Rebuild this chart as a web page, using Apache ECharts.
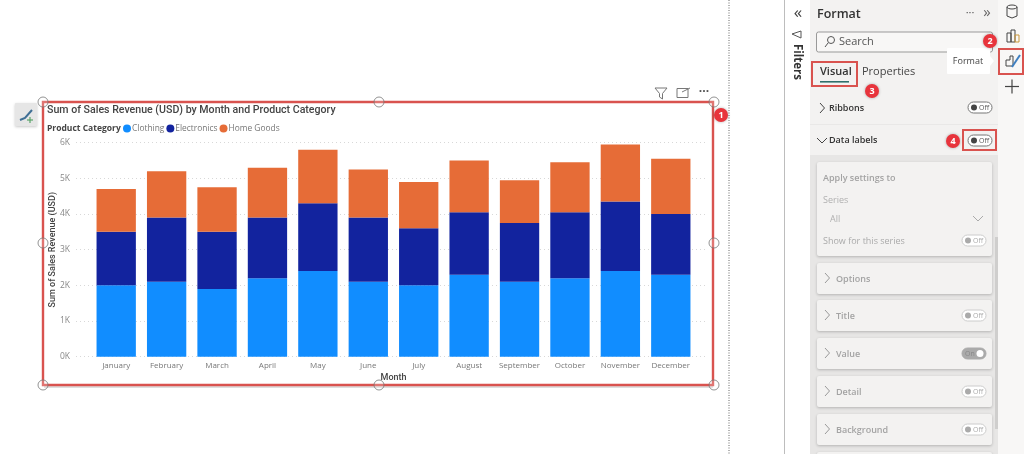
<!DOCTYPE html>
<html><head><meta charset="utf-8">
<style>html,body{margin:0;padding:0;background:#fff}#c{width:1024px;height:454px}</style>
<script src="https://cdn.jsdelivr.net/npm/echarts@6/dist/echarts.min.js"></script>
</head><body><div id="c"></div>
<script>
const months = ['January','February','March','April','May','June','July','August','September','October','November','December'];
const clothing = [2000,2100,1900,2200,2400,2100,2000,2300,2100,2200,2400,2300];
const electronics = [1500,1800,1600,1700,1900,1800,1600,1750,1650,1850,1950,1700];
const homeGoods = [1200,1300,1250,1400,1500,1350,1300,1450,1200,1400,1600,1550];
const chartTitle = 'Sum of Sales Revenue (USD) by Month and Product Category';
const legendTitle = 'Product Category';
const yAxisName = 'Sum of Sales Revenue (USD)';
const xAxisName = 'Month';

const F = '"Open Sans", sans-serif';
const R = 'Roboto, sans-serif';
const g = [];
function rect(x,y,w,h,fill,stroke,lw,r,shadow,z){
  g.push({type:'rect',z:z||1,shape:{x,y,width:w,height:h,r:r||0},silent:true,
    style:{fill:fill||'none',stroke:stroke||'none',lineWidth:lw||1,
      shadowBlur:shadow?3:0,shadowColor:'rgba(0,0,0,0.22)',shadowOffsetY:shadow?1:0}});
}
function text(x,y,t,size,color,weight,align,z,font){
  g.push({type:'text',z:z||5,x,y,silent:true,style:{text:t,fontSize:size,fill:color,
    fontWeight:weight||'normal',fontFamily:font||F,align:align||'left',verticalAlign:'middle'}});
}
function line(pts,color,lw,dash,z){
  g.push({type:'polyline',z:z||5,silent:true,shape:{points:pts},style:{fill:'none',stroke:color,lineWidth:lw||1,lineDash:dash||null}});
}
function circle(x,y,r,fill,stroke,lw,z,shadow){
  g.push({type:'circle',z:z||6,silent:true,shape:{cx:x,cy:y,r},style:{fill:fill||'none',stroke:stroke||'none',lineWidth:lw||1,
    shadowBlur:shadow?3:0,shadowColor:'rgba(0,0,0,0.3)'}});
}
function badge(x,y,n){ circle(x,y,7,'#e8343c',null,1,20,true); text(x,y+0.5,n,9,'#fff','bold','center',21); }
function chev(x,y,c){ line([[x,y-5],[x+4.5,y],[x,y+5]],c||'#666',1); }
function toggle(x,y,on,c,dim){
  rect(x,y,24,11,on?'#aaa':'#fff',c||'#777',1,5.5,false,6);
  if(on){ circle(x+18,y+5.5,3.5,'#fff',null,1,7); text(x+3,y+5.5,'On',7,'#888','normal','left',7); }
  else { circle(x+6,y+5.5,3,dim?'#aaa':'#444',null,1,7); text(x+11,y+5.5,'Off',7,dim?'#aaa':'#555','normal','left',7); }
}

// canvas edge + focus frame
line([[729,0],[729,454]],'#666',1,[1,1.5]);
rect(43,102,670,283,'none','#d9534f',2.4,0,false,8);
line([[44,387],[713,387]],'rgba(0,0,0,0.13)',2,null,3);
[[43,102],[379,102],[714,102],[43,243],[714,243],[43,385],[379,385],[714,385]].forEach(p=>circle(p[0],p[1],5,'rgba(255,255,255,0.2)','#777',0.8,9));
badge(721,115,'1');
// format button
rect(15,103,22,23,'#e6e6e6',null,1,1,true,2);
line([[20,120],[25,118],[32,110]],'#3f6f95',2,null,3);
line([[27,120],[33,120]],'#5aa469',1.2,null,3);
line([[30,117],[30,123]],'#5aa469',1.2,null,3);
// visual header icons
line([[655,88],[667,88],[662.5,93.5],[662.5,99],[659.5,97],[659.5,93.5],[655,88]],'#777',1);
rect(677,88.5,11,9,'none','#777',1);
line([[682,92],[690,88]],'#777',1);
text(704,92,'···',12,'#555','bold','center');

// right panel
rect(784,0,1,454,'#bdbdbd');
rect(785,0,25,454,'#ffffff');
rect(810,0,188,454,'#f3f2f1');
rect(998,0,26,454,'#f8f7f6');
text(798,13,'«',17,'#444','normal','center');
line([[792,34],[801,31],[801,38],[792,34]],'#555',1);
g.push({type:'text',z:5,x:797,y:62,rotation:-Math.PI/2,silent:true,style:{text:'Filters',fontSize:11.5,fontWeight:'bold',fill:'#333',fontFamily:F,align:'center',verticalAlign:'middle'}});
text(817,14,'Format',12.5,'#333','600');
text(970,13,'···',11,'#555','normal','center');
text(987,13,'»',15,'#666','normal','center');
rect(816.5,32,176,20,'#f8f7f6','#999',1,2);
g.push({type:'circle',z:5,silent:true,shape:{cx:831,cy:40,r:3.5},style:{fill:'none',stroke:'#555'}});
line([[828,43],[825,47]],'#555',1);
text(839,42,'Search',11,'#555');
text(820,72,'Visual',11,'#333','600');
text(862,72,'Properties',11,'#444');
rect(820,81,29,1.6,'#2f6f6b');
rect(812,62,45,24,'none','#d9534f',2,0,false,8);
badge(872,91,'3');
chev(820,108,'#444');
text(829,108.5,'Ribbons',9,'#333','600');
toggle(968,102,false);
rect(810,124,188,1,'#e9e8e7');
line([[817,138],[822,143],[827,138]],'#444',1);
text(829,140.5,'Data labels',9,'#333','600');
toggle(968,135,false);
rect(963,130,33,20,'none','#d9534f',2,0,false,8);
badge(953,141,'4');
// disabled section
rect(810,155,188,299,'#e7e6e5');
rect(817,162,175,94,'#f3f2f1',null,1,2,true,2);
text(823,178,'Apply settings to',9,'#a3a3a3','600');
text(823,200,'Series',9,'#b0b0b0');
rect(823.5,210,162,18,'#f3f2f1','#c8c8c8',1);
text(830,219,'All',9,'#b0b0b0');
line([[973,216],[978,221],[983,216]],'#aaa',1);
text(823,241,'Show for this series',9,'#aaa');
toggle(962,235,false,'#ccc',true);
const cards=[['Options',263,null],['Title',300,false],['Value',338,true],['Detail',376,false],['Background',414,false]];
cards.forEach(c=>{
  rect(817,c[1],175,31,'#f3f2f1',null,1,2,true,2);
  chev(825,c[1]+15,'#999');
  text(836,c[1]+16,c[0],9,'#a3a3a3','600');
  if(c[2]!==null) toggle(962,c[1]+10,c[2],c[2]?'#aaa':'#ccc',true);
});
rect(817,452,175,10,'#f3f2f1',null,1,2,true,2);
rect(995,237,3,192,'#cfcecd');
// tooltip + icon strip
rect(947,48,43,26,'#fff',null,1,1,false,9);
g.push({type:'polygon',z:9,silent:true,shape:{points:[[990,56],[994,61],[990,66]]},style:{fill:'#fff'}});
text(968,61,'Format',9,'#444','normal','center',10);
badge(990,41,'2');
rect(999,49,24,25,'none','#d9534f',2,0,false,8);
g.push({type:'ellipse',z:5,silent:true,shape:{cx:1012,cy:7,rx:5,ry:2},style:{fill:'none',stroke:'#444'}});
line([[1007,7],[1007,16],[1012,18],[1017,16],[1017,7]],'#444',1);
rect(1007,33,4,9,'none','#444'); rect(1011,30,4,12,'none','#444'); rect(1015,35,4,7,'none','#c9963a');
line([[1006,66],[1006,60],[1010,60],[1010,56],[1013,56],[1013,66],[1006,66]],'#444',1);
line([[1012,67],[1020,55]],'#3f7fc0',2);
line([[1005,86.5],[1019,86.5]],'#444',1.2);
line([[1012,79.5],[1012,93.5]],'#444',1.2);

// chart texts
text(47,128.5,legendTitle,8.5,'#444','bold');

const yTicks = {min:0,max:6000,interval:1000};
const option = {
  animation:false,
  backgroundColor:'#fff',
  title:{text:chartTitle,left:47,top:105,padding:0,textStyle:{fontFamily:R,fontSize:10.6,fontWeight:500,color:'#444'}},
  legend:{left:123,top:124.5,padding:0,itemWidth:8,itemHeight:8,itemGap:2,icon:'circle',
    data:['Clothing','Electronics','Home Goods'],
    textStyle:{fontFamily:F,fontSize:8.4,color:'#777',padding:[0,0,0,-4]}},
  grid:[
    {left:91,right:328,top:142.7,height:214},
    {left:76,right:317,top:142.7,height:214}
  ],
  xAxis:[
    {gridIndex:0,type:'category',data:months,axisLine:{show:false},axisTick:{show:false},
     axisLabel:{fontFamily:F,fontSize:8,color:'#777',margin:5,interval:0},
     name:xAxisName,nameLocation:'middle',nameGap:17,nameMoveOverlap:false,
     nameTextStyle:{fontFamily:R,fontSize:9,fontWeight:500,color:'#444'}},
    {gridIndex:1,type:'category',data:[''],show:false}
  ],
  yAxis:[
    {gridIndex:0,type:'value',min:yTicks.min,max:yTicks.max,interval:yTicks.interval,show:false},
    {gridIndex:1,type:'value',min:yTicks.min,max:yTicks.max,interval:yTicks.interval,
     axisLine:{show:false},axisTick:{show:false},
     splitLine:{lineStyle:{type:[1,3],color:'#d8d8d8',width:1}},
     axisLabel:{fontFamily:F,fontSize:8.5,color:'#888',margin:6,formatter:v=>(v/1000)+'K'},
     name:yAxisName,nameLocation:'middle',nameGap:19,nameRotate:90,nameMoveOverlap:false,
     nameTextStyle:{fontFamily:R,fontSize:9,fontWeight:500,color:'#444'}}
  ],
  series:[
    {name:'Clothing',data:clothing,color:'#118DFF'},
    {name:'Electronics',data:electronics,color:'#12239E'},
    {name:'Home Goods',data:homeGoods,color:'#E66C37'}
  ].map(s=>({...s,type:'bar',stack:'total',xAxisIndex:0,yAxisIndex:0,barCategoryGap:'22%',itemStyle:{color:s.color},emphasis:{disabled:true}})),
  graphic:{elements:g}
};
echarts.init(document.getElementById('c')).setOption(option);
</script></body></html>
